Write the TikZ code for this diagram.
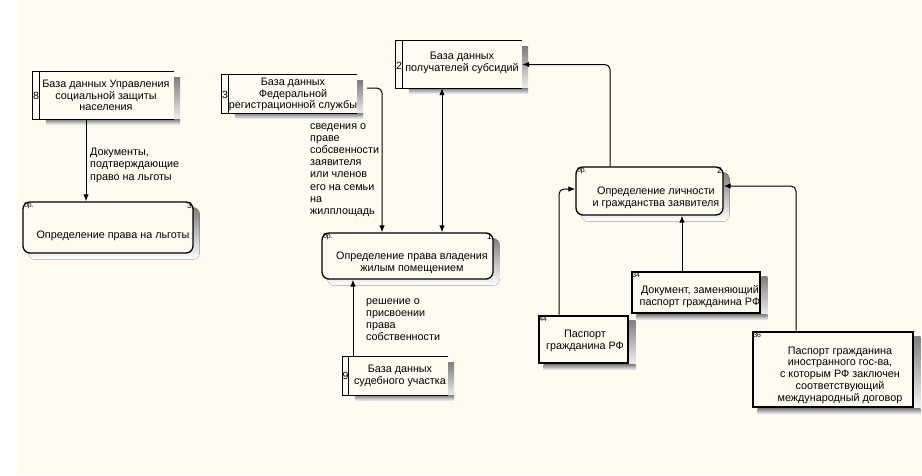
\documentclass[tikz,border=0pt]{standalone}
\usepackage{fontspec}
\setmainfont{Liberation Sans}
\usetikzlibrary{positioning,calc,arrows.meta}

\definecolor{paper}{RGB}{255,251,240}
\definecolor{shade}{RGB}{150,150,150}

\pgfdeclarelayer{back}
\pgfdeclarelayer{shadowlayer}
\pgfsetlayers{back,shadowlayer,main}

\tikzset{
  txt/.style={font=\fontsize{10.8}{11.8}\selectfont, align=center, inner sep=0pt},
  lbl/.style={font=\fontsize{10.8}{12.2}\selectfont, align=left, anchor=north west, inner sep=0pt},
  tiny/.style={font=\fontsize{7}{8}\selectfont, inner sep=1.5pt},
  cellnum/.style={font=\fontsize{10.5}{11}\selectfont, inner sep=0pt},
  proc/.style={draw, line width=1.3pt, rounded corners=7pt, fill=paper, inner sep=0pt},
  store/.style={fill=paper, inner sep=0pt},
  srcbox/.style={draw, line width=2.7pt, fill=paper, inner sep=0pt},
  arr/.style={-{Latex[length=7pt,width=5.5pt]}, line width=1pt, rounded corners=5pt},
  arrboth/.style={{Latex[length=7pt,width=5.5pt]}-{Latex[length=7pt,width=5.5pt]}, line width=1pt}
}

\begin{document}
\begin{tikzpicture}[x=1pt, y=-1pt]
    \useasboundingbox (0,0) rectangle (922,475);
    \begin{pgfonlayer}{back}
        \fill[white] (0,0) rectangle (922,475);
        \fill[paper] (17,0) rectangle (922,475);
    \end{pgfonlayer}

    % data stores
    \node[store, minimum width=134, minimum height=47] (d8) at (107,95.5) {};
    \draw[line width=1.3pt] (d8.north east) -- ++(-142,0) |- (d8.south east);
    \draw[line width=1.3pt] (d8.north west) -- (d8.south west);
    \node[cellnum] (n8) at (36,96) {8};
    \node[txt] (d8t) at (106,95.5) {База данных Управления\\социальной защиты\\населения};

    \node[store, minimum width=128, minimum height=38] (d3) at (293,94) {};
    \draw[line width=1.3pt] (d3.north east) -- ++(-136,0) |- (d3.south east);
    \draw[line width=1.3pt] (d3.north west) -- (d3.south west);
    \node[cellnum] (n3) at (225,95) {3};
    \node[txt] (d3t) at (293,94.5) {База данных\\Федеральной\\регистрационной службы};

    \node[store, minimum width=99, minimum height=38] (d9) at (398.5,376) {};
    \draw[line width=1.3pt] (d9.north east) -- ++(-106,0) |- (d9.south east);
    \draw[line width=1.3pt] (d9.north west) -- (d9.south west);
    \node[cellnum] (n9) at (345.5,376) {9};
    \node[txt] (d9t) at (400,375.5) {База данных\\судебного участка};

    \node[store, minimum width=119, minimum height=47] (d2) at (462.5,64.5) {};
    \draw[line width=1.3pt] (d2.north east) -- ++(-127,0) |- (d2.south east);
    \draw[line width=1.3pt] (d2.north west) -- (d2.south west);
    \node[cellnum] (n2) at (399,66) {2};
    \node[txt] (d2t) at (462,63) {База данных\\получателей субсидий};

    % processes
    \node[proc, minimum width=170, minimum height=51,
          label={[tiny, anchor=north west]north west:0р.},
          label={[tiny, font=\fontsize{8.5}{9}\selectfont, anchor=north east]north east:3}] (p3) at (108,227.5) {};
    \node[txt] (p3t) at (113,236) {Определение права на льготы};

    \node[proc, minimum width=171, minimum height=46,
          label={[tiny, anchor=north west]north west:0р.},
          label={[tiny, font=\fontsize{8.5}{9}\selectfont, anchor=north east]north east:1}] (p1) at (407.5,256) {};
    \node[txt] (p1t) at (412,263) {Определение права владения\\жилым помещением};

    \node[proc, minimum width=147, minimum height=48,
          label={[tiny, anchor=north west]north west:0р.},
          label={[tiny, font=\fontsize{8.5}{9}\selectfont, anchor=north east]north east:2}] (p2) at (649.5,191) {};
    \node[txt] (p2t) at (656,198) {Определение личности\\и гражданства заявителя};

    % documents
    \node[srcbox, minimum width=89, minimum height=47,
          label={[tiny, anchor=north west]north west:44}] (b44) at (583.5,339.5) {};
    \node[txt] (b44t) at (585,340.5) {Паспорт\\гражданина РФ};

    \node[srcbox, minimum width=128, minimum height=41,
          label={[tiny, anchor=north west]north west:34}] (b34) at (696,292.5) {};
    \node[txt] (b34t) at (700,297) {Документ, заменяющий\\паспорт гражданина РФ};

    \node[srcbox, minimum width=160, minimum height=75,
          label={[tiny, anchor=north west]north west:36}] (b36) at (833,369.5) {};
    \node[txt] (b36t) at (840,375) {Паспорт гражданина\\иностранного гос-ва,\\с которым РФ заключен\\соответствующий\\международный договор};

    % shadows
    \begin{pgfonlayer}{shadowlayer}
        \foreach \n in {d8,d3,d9,d2,b44,b34,b36} {
            \fill[shade] ([shift={(0pt,-6pt)}]\n.north east) rectangle ([shift={(6pt,-6pt)}]\n.south east);
            \fill[shade] ([shift={(6pt,0pt)}]\n.south west) rectangle ([shift={(6pt,-6pt)}]\n.south east);
        }
        \foreach \n in {p3,p1,p2}
            \fill[shade, rounded corners=7pt] ([shift={(6pt,-6pt)}]\n.north west) rectangle ([shift={(6pt,-6pt)}]\n.south east);
    \end{pgfonlayer}

    % flows
    \draw[arr] (86,0 |- d8.south) -- (86,0 |- p3.north);
    \node[lbl] (l1) at (90,148) {Документы,\\подтверждающие\\право на льготы};

    \draw[arr] ($(d3.east)+(10,-6)$) -| (382,0 |- p1.north);
    \node[lbl] (l2) at (310,123) {сведения о\\праве\\собсвенности\\заявителя\\или членов\\его на семьи\\на\\жилплощадь};

    \draw[arrboth] (442,0 |- d2.south) -- (442,0 |- p1.north);

    \draw[arr] (353,0 |- d9.north) -- (353,0 |- p1.south);
    \node[lbl] (l3) at (366,298) {решение о\\присвоении\\права\\собственности};

    \draw[arr] (610,0 |- p2.north) |- (d2.east);

    \draw[arr] (559,0 |- b44.north) |- ($(p2.west)+(0,-2)$);
    \draw[arr] (682,0 |- b34.north) -- (682,0 |- p2.south);
    \draw[arr] (796,0 |- b36.north) |- ($(p2.east)+(0,-5)$);

\end{tikzpicture}
\end{document}
